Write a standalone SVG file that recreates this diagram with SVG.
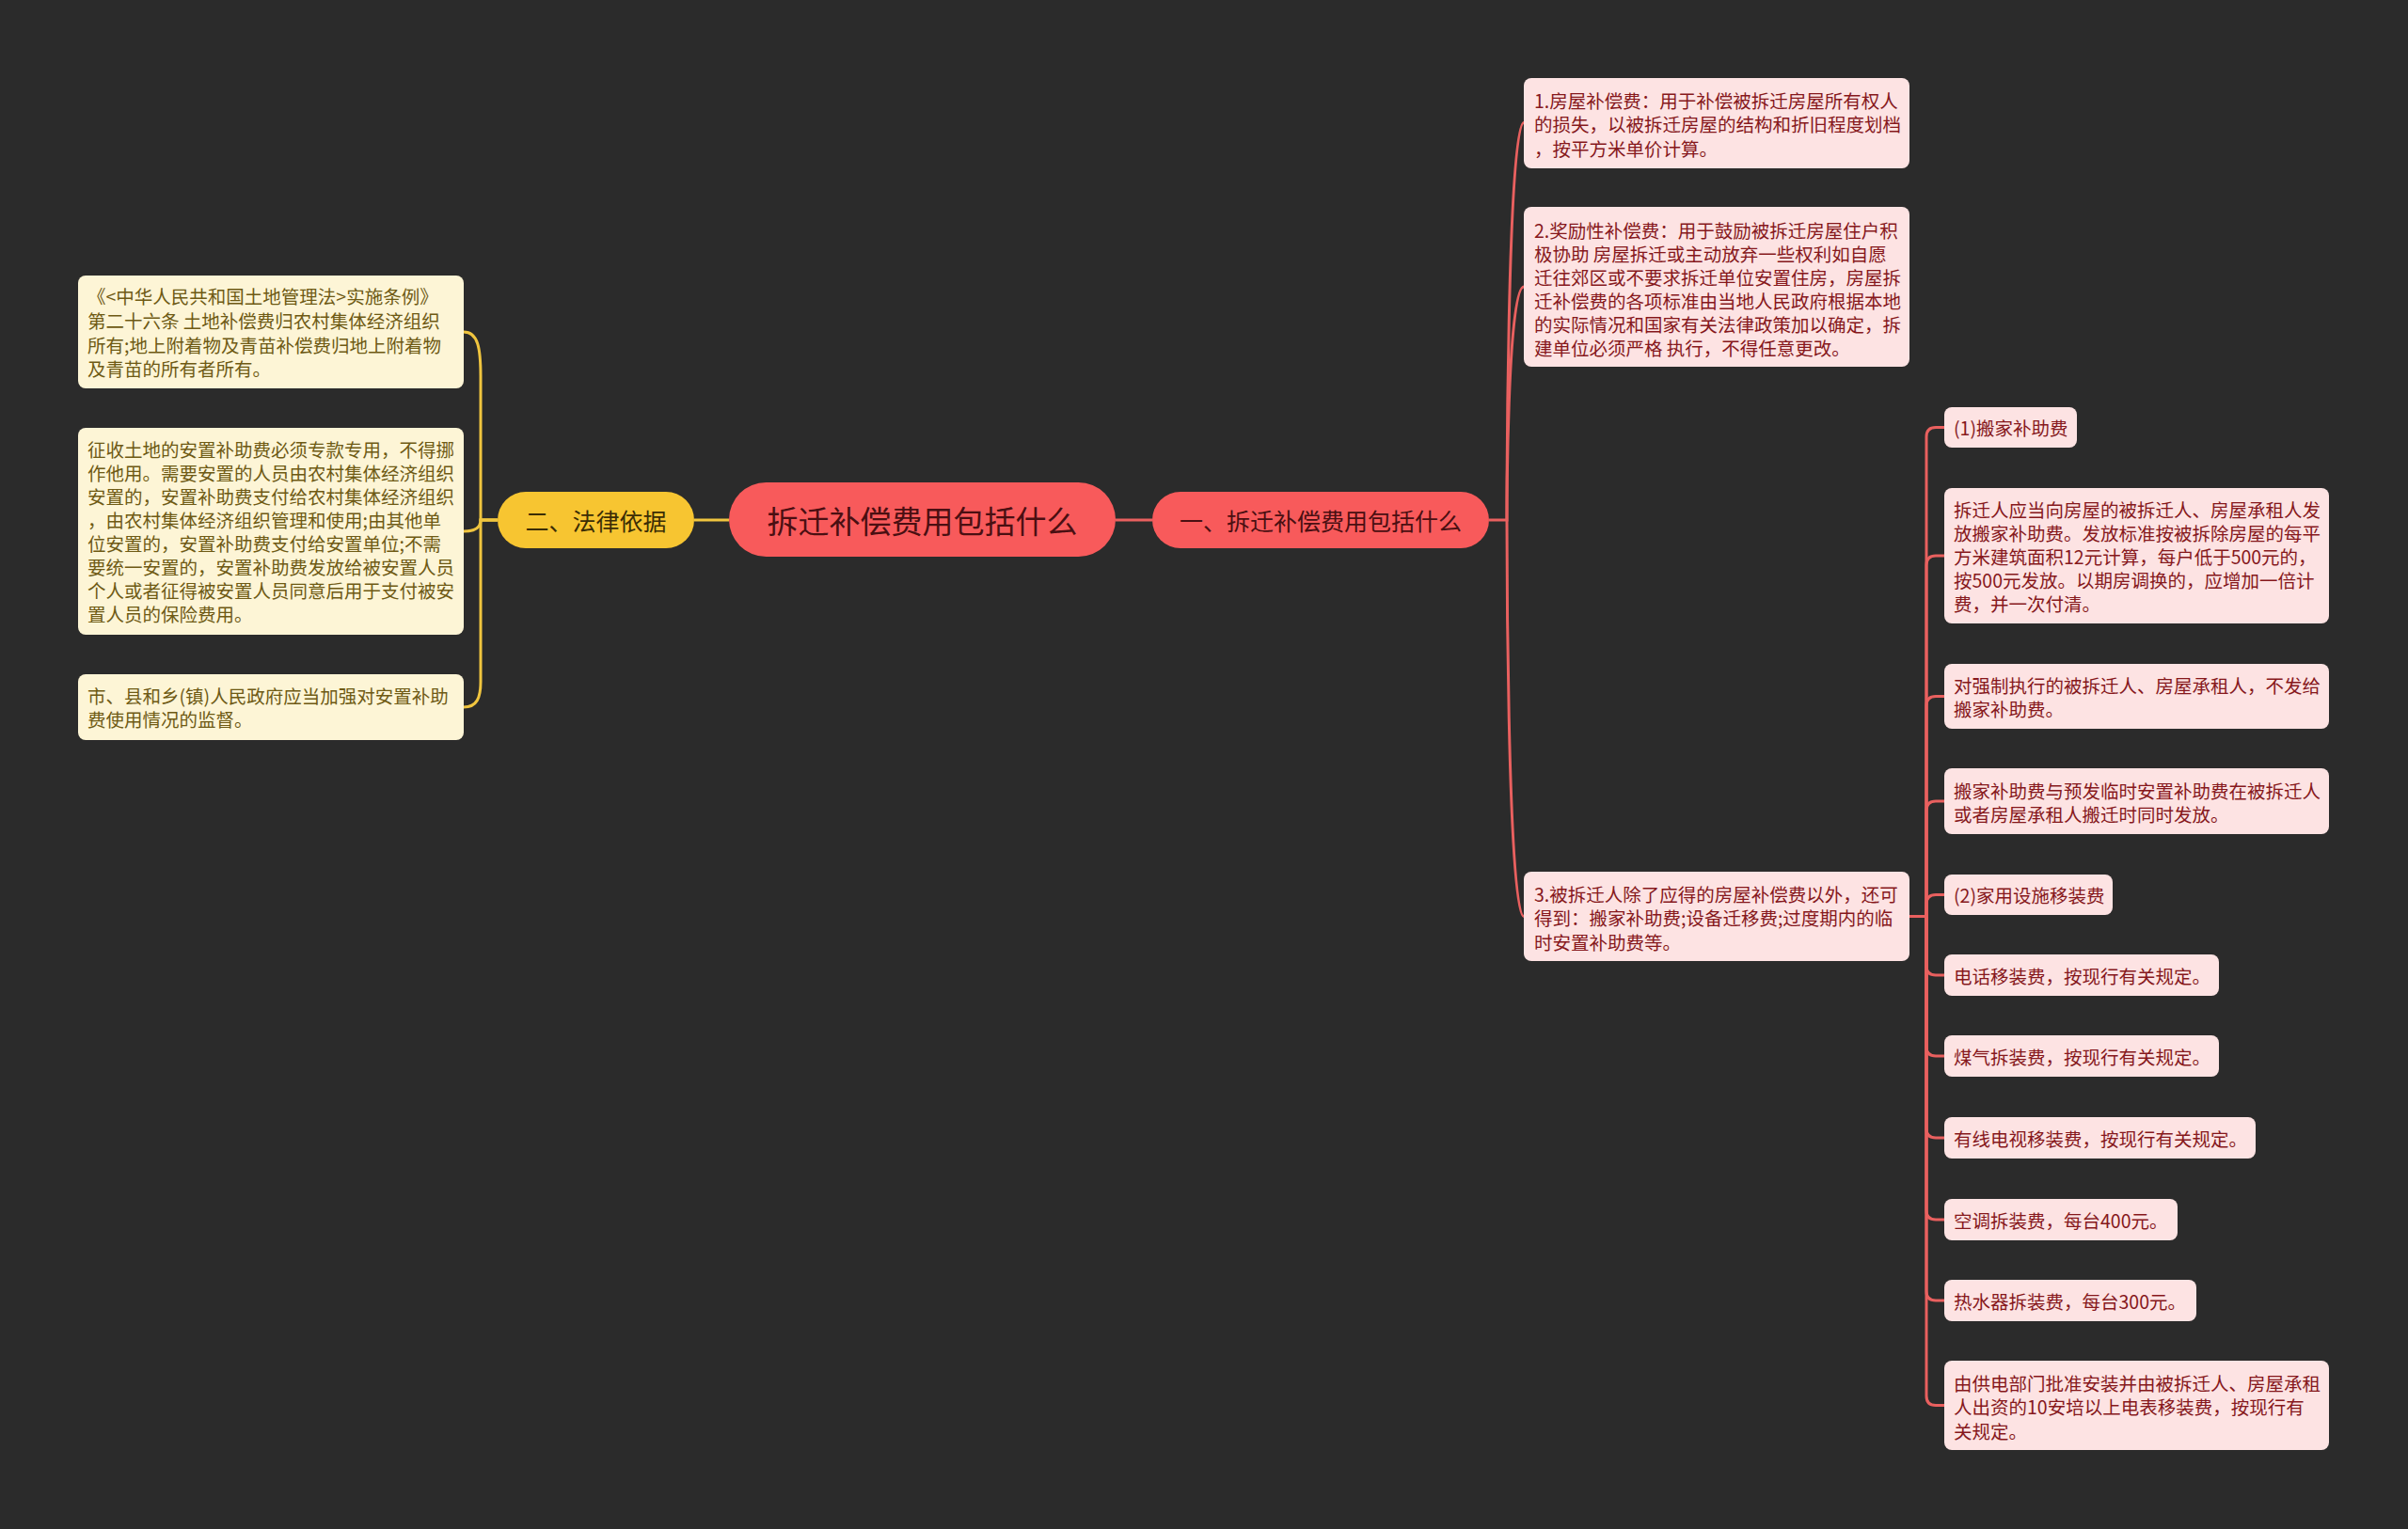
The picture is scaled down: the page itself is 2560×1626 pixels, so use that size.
<svg xmlns="http://www.w3.org/2000/svg" width="2560" height="1626" viewBox="0 0 2560 1626">
<style>
text{font-family:"Noto Sans CJK SC","Noto Sans",sans-serif;dominant-baseline:central}
.lf rect{fill:#fdf5d6}
.lf text{fill:#6e5a14;font-size:19.5px}
.rf rect{fill:#fde3e3}
.rf text{fill:#86181c;font-size:19.5px}
.yl{fill:none;stroke:#f0c53f;stroke-width:3}
.rd{fill:none;stroke:#e9605f;stroke-width:3}
</style>
<rect width="2560" height="1626" fill="#2b2b2b"/>
<g id="connectors">
<path class="yl" d="M775 553H738"/>
<path class="yl" d="M529 553H511V400C511 370 508 353 493 353"/>
<path class="yl" d="M529 553H511C511 560 507 565 493 565"/>
<path class="yl" d="M529 553H511V725C511 742 507 752 493 752"/>
<path class="rd" d="M1186 553H1225"/>
<path class="rd" d="M1583 553H1602C1602 553 1602 130.5 1620 130.5"/>
<path class="rd" d="M1602 553C1602 553 1602 305 1620 305"/>
<path class="rd" d="M1602 553C1602 553 1602 974.5 1620 974.5"/>
<path class="rd" d="M2030 974.5H2048V464.5Q2048 454.5 2058 454.5H2067"/>
<path class="rd" d="M2048 974.5V601Q2048 591 2058 591H2067"/>
<path class="rd" d="M2048 974.5V750.5Q2048 740.5 2058 740.5H2067"/>
<path class="rd" d="M2048 974.5V862Q2048 852 2058 852H2067"/>
<path class="rd" d="M2048 974.5V961.5Q2048 951.5 2058 951.5H2067"/>
<path class="rd" d="M2048 974.5V1027Q2048 1037 2058 1037H2067"/>
<path class="rd" d="M2048 974.5V1113Q2048 1123 2058 1123H2067"/>
<path class="rd" d="M2048 974.5V1200Q2048 1210 2058 1210H2067"/>
<path class="rd" d="M2048 974.5V1287Q2048 1297 2058 1297H2067"/>
<path class="rd" d="M2048 974.5V1373Q2048 1383 2058 1383H2067"/>
<path class="rd" d="M2048 974.5V1484.5Q2048 1494.5 2058 1494.5H2067"/>
</g>
<g id="center">
<rect x="775" y="513" width="411" height="79" rx="39.5" fill="#f85a5b"/>
<text x="980.5" y="552.5" font-size="33" fill="#4a0f12" text-anchor="middle">拆迁补偿费用包括什么</text>
</g>
<g id="branch-legal">
<rect x="529" y="523" width="209" height="60" rx="30" fill="#f7c531"/>
<text x="633.5" y="553" font-size="25" fill="#3b2d05" text-anchor="middle">二、法律依据</text>
</g>
<g id="branch-fees">
<rect x="1225" y="523" width="358" height="60" rx="30" fill="#f85a5b"/>
<text x="1404" y="553" font-size="25" fill="#4a0f12" text-anchor="middle">一、拆迁补偿费用包括什么</text>
</g>
<g id="l1" class="lf">
<rect x="83" y="293" width="410" height="120" rx="8"/>
<text x="93" y="314.5">《&lt;中华人民共和国土地管理法&gt;实施条例》</text>
<text x="93" y="340.5">第二十六条 土地补偿费归农村集体经济组织</text>
<text x="93" y="366">所有;地上附着物及青苗补偿费归地上附着物</text>
<text x="93" y="391.5">及青苗的所有者所有。</text>
</g>
<g id="l2" class="lf">
<rect x="83" y="455" width="410" height="220" rx="8"/>
<text x="93" y="477.5">征收土地的安置补助费必须专款专用，不得挪</text>
<text x="93" y="502.5">作他用。需要安置的人员由农村集体经济组织</text>
<text x="93" y="527.5">安置的，安置补助费支付给农村集体经济组织</text>
<text x="93" y="552.5">，由农村集体经济组织管理和使用;由其他单</text>
<text x="93" y="577.5">位安置的，安置补助费支付给安置单位;不需</text>
<text x="93" y="602.5">要统一安置的，安置补助费发放给被安置人员</text>
<text x="93" y="627.5">个人或者征得被安置人员同意后用于支付被安</text>
<text x="93" y="652.5">置人员的保险费用。</text>
</g>
<g id="l3" class="lf">
<rect x="83" y="717" width="410" height="70" rx="8"/>
<text x="93" y="739.5">市、县和乡(镇)人民政府应当加强对安置补助</text>
<text x="93" y="764.5">费使用情况的监督。</text>
</g>
<g id="r1" class="rf">
<rect x="1620" y="83" width="410" height="96" rx="8"/>
<text x="1631" y="106">1.房屋补偿费：用于补偿被拆迁房屋所有权人</text>
<text x="1631" y="131.5">的损失，以被拆迁房屋的结构和折旧程度划档</text>
<text x="1631" y="157">，按平方米单价计算。</text>
</g>
<g id="r2" class="rf">
<rect x="1620" y="220" width="410" height="170" rx="8"/>
<text x="1631" y="244.5">2.奖励性补偿费：用于鼓励被拆迁房屋住户积</text>
<text x="1631" y="269.5">极协助 房屋拆迁或主动放弃一些权利如自愿</text>
<text x="1631" y="294.5">迁往郊区或不要求拆迁单位安置住房，房屋拆</text>
<text x="1631" y="319.5">迁补偿费的各项标准由当地人民政府根据本地</text>
<text x="1631" y="344.5">的实际情况和国家有关法律政策加以确定，拆</text>
<text x="1631" y="369.5">建单位必须严格 执行，不得任意更改。</text>
</g>
<g id="r3" class="rf">
<rect x="1620" y="927" width="410" height="95" rx="8"/>
<text x="1631" y="950">3.被拆迁人除了应得的房屋补偿费以外，还可</text>
<text x="1631" y="975.5">得到：搬家补助费;设备迁移费;过度期内的临</text>
<text x="1631" y="1001">时安置补助费等。</text>
</g>
<g id="s1" class="rf">
<rect x="2067" y="433" width="141" height="43" rx="8"/>
<text x="2077" y="454.5">(1)搬家补助费</text>
</g>
<g id="s2" class="rf">
<rect x="2067" y="519" width="409" height="144" rx="8"/>
<text x="2077" y="541.5">拆迁人应当向房屋的被拆迁人、房屋承租人发</text>
<text x="2077" y="566.5">放搬家补助费。发放标准按被拆除房屋的每平</text>
<text x="2077" y="591.5">方米建筑面积12元计算，每户低于500元的，</text>
<text x="2077" y="616.5">按500元发放。以期房调换的，应增加一倍计</text>
<text x="2077" y="641.5">费，并一次付清。</text>
</g>
<g id="s3" class="rf">
<rect x="2067" y="706" width="409" height="69" rx="8"/>
<text x="2077" y="728.5">对强制执行的被拆迁人、房屋承租人，不发给</text>
<text x="2077" y="753.5">搬家补助费。</text>
</g>
<g id="s4" class="rf">
<rect x="2067" y="817" width="409" height="70" rx="8"/>
<text x="2077" y="840">搬家补助费与预发临时安置补助费在被拆迁人</text>
<text x="2077" y="865">或者房屋承租人搬迁时同时发放。</text>
</g>
<g id="s5" class="rf">
<rect x="2067" y="930" width="179" height="43" rx="8"/>
<text x="2077" y="951.5">(2)家用设施移装费</text>
</g>
<g id="s6" class="rf">
<rect x="2067" y="1015" width="292" height="44" rx="8"/>
<text x="2077" y="1037">电话移装费，按现行有关规定。</text>
</g>
<g id="s7" class="rf">
<rect x="2067" y="1101" width="292" height="44" rx="8"/>
<text x="2077" y="1123">煤气拆装费，按现行有关规定。</text>
</g>
<g id="s8" class="rf">
<rect x="2067" y="1188" width="331" height="44" rx="8"/>
<text x="2077" y="1210">有线电视移装费，按现行有关规定。</text>
</g>
<g id="s9" class="rf">
<rect x="2067" y="1275" width="248" height="44" rx="8"/>
<text x="2077" y="1297">空调拆装费，每台400元。</text>
</g>
<g id="s10" class="rf">
<rect x="2067" y="1361" width="268" height="44" rx="8"/>
<text x="2077" y="1383">热水器拆装费，每台300元。</text>
</g>
<g id="s11" class="rf">
<rect x="2067" y="1447" width="409" height="95" rx="8"/>
<text x="2077" y="1470">由供电部门批准安装并由被拆迁人、房屋承租</text>
<text x="2077" y="1495.5">人出资的10安培以上电表移装费，按现行有</text>
<text x="2077" y="1521">关规定。</text>
</g>
</svg>
